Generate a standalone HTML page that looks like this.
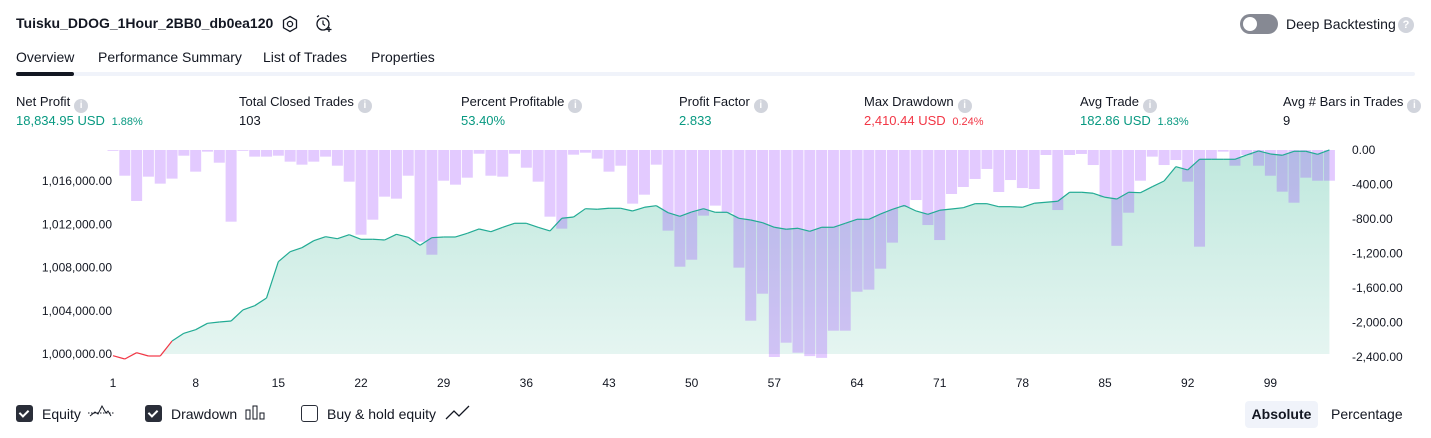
<!DOCTYPE html>
<html><head><meta charset="utf-8">
<style>
body{margin:0;width:1431px;height:438px;background:#fff;font-family:"Liberation Sans",sans-serif;color:#131722;position:relative;overflow:hidden}
.a{position:absolute;white-space:nowrap}
.t{font-size:14px}
.lab{font-size:13px;top:94px}
.val{font-size:13px;top:113px}
.g{color:#089981}.r{color:#f23645}
.sm{font-size:11px}
.info{display:inline-block;width:14px;height:14px;border-radius:50%;background:#d1d4dc;color:#fff;font-size:10px;text-align:center;line-height:14px;font-weight:bold;vertical-align:-2px;margin-left:4px}
.cb{position:absolute;top:405px;width:17px;height:17px;border-radius:3px;box-sizing:border-box}
.cb.on{background:#2a2e39}
.cb.on:after{content:"";position:absolute;left:5px;top:3px;width:4px;height:7px;border:solid #fff;border-width:0 2px 2px 0;transform:rotate(45deg)}
.cb.off{border:1.5px solid #2a2e39;background:#fff}
svg text{font-family:"Liberation Sans",sans-serif;font-size:12px;fill:#131722}
</style></head><body>
<div class="a" style="left:16px;top:15px;font-size:14px;font-weight:bold">Tuisku_DDOG_1Hour_2BB0_db0ea120</div>
<svg class="a" style="left:281px;top:15px" width="18" height="18" viewBox="0 0 18 18"><polygon points="9,1.5 15.5,5.2 15.5,12.8 9,16.5 2.5,12.8 2.5,5.2" fill="none" stroke="#131722" stroke-width="1.3"/><circle cx="9" cy="9" r="2.6" fill="none" stroke="#131722" stroke-width="1.3"/></svg>
<svg class="a" style="left:314px;top:14px" width="20" height="20" viewBox="0 0 20 20"><circle cx="9" cy="10" r="6" fill="none" stroke="#131722" stroke-width="1.3"/><path d="M9 6.5V10l2 1.5M3 3l2-1.5M15 3l-2-1.5" fill="none" stroke="#131722" stroke-width="1.2"/><path d="M15 13v5M12.5 15.5h5" stroke="#131722" stroke-width="1.3"/></svg>
<div class="a" style="left:1240px;top:14px;width:38px;height:20px;border-radius:10px;background:#868993"><div style="position:absolute;left:3px;top:3px;width:14px;height:14px;border-radius:50%;background:#fff"></div></div>
<div class="a t" style="left:1286px;top:16px">Deep Backtesting</div>
<div class="a" style="left:1398px;top:17px;width:16px;height:16px;border-radius:50%;background:#d1d4dc;color:#fff;font-size:11px;text-align:center;line-height:16px;font-weight:bold">?</div>

<div class="a t" style="left:16px;top:49px">Overview</div>
<div class="a t" style="left:98px;top:49px">Performance Summary</div>
<div class="a t" style="left:263px;top:49px">List of Trades</div>
<div class="a t" style="left:371px;top:49px">Properties</div>
<div class="a" style="left:16px;top:72px;width:1399px;height:4px;background:#f0f3fa;border-radius:2px"></div>
<div class="a" style="left:16px;top:72px;width:58px;height:4px;background:#131722;border-radius:2px"></div>

<div class="a lab" style="left:16px">Net Profit<span class="info">i</span></div>
<div class="a val g" style="left:16px">18,834.95 USD <span class="sm">&nbsp;1.88%</span></div>
<div class="a lab" style="left:239px">Total Closed Trades<span class="info">i</span></div>
<div class="a val" style="left:239px">103</div>
<div class="a lab" style="left:461px">Percent Profitable<span class="info">i</span></div>
<div class="a val g" style="left:461px">53.40%</div>
<div class="a lab" style="left:679px">Profit Factor<span class="info">i</span></div>
<div class="a val g" style="left:679px">2.833</div>
<div class="a lab" style="left:864px">Max Drawdown<span class="info">i</span></div>
<div class="a val r" style="left:864px">2,410.44 USD <span class="sm">&nbsp;0.24%</span></div>
<div class="a lab" style="left:1080px">Avg Trade<span class="info">i</span></div>
<div class="a val g" style="left:1080px">182.86 USD <span class="sm">&nbsp;1.83%</span></div>
<div class="a lab" style="left:1283px">Avg # Bars in Trades<span class="info">i</span></div>
<div class="a val" style="left:1283px">9</div>

<svg class="a" id="chart" style="left:0;top:0" width="1431" height="400">
<defs><linearGradient id="ag" x1="0" y1="0" x2="0" y2="1"><stop offset="0" stop-color="#bfe8dd"/><stop offset="1" stop-color="#e5f5f1"/></linearGradient></defs>
<g id="area"></g><g id="bars"></g><g id="line"></g><g id="axes"></g>
</svg>

<div class="cb on" style="left:16px"></div>
<div class="a t" style="left:42px;top:406px">Equity</div>
<svg class="a" style="left:87px;top:403px" width="28" height="20"><path d="M1 10H27" stroke="#131722" stroke-dasharray="1.5 1.5"/><path d="M3 13l5-4 3 2 4-8 4 7 2-2 3 5" fill="none" stroke="#131722"/></svg>
<div class="cb on" style="left:145px"></div>
<div class="a t" style="left:171px;top:406px">Drawdown</div>
<svg class="a" style="left:245px;top:405px" width="22" height="16"><rect x="1" y="5" width="4" height="9" fill="none" stroke="#131722"/><rect x="8" y="1" width="4" height="13" fill="none" stroke="#131722"/><rect x="15" y="8" width="4" height="6" fill="none" stroke="#131722"/></svg>
<div class="cb off" style="left:301px"></div>
<div class="a t" style="left:327px;top:406px">Buy &amp; hold equity</div>
<svg class="a" style="left:445px;top:404px" width="26" height="18"><path d="M1 15l8-8 5 5 10-10" fill="none" stroke="#131722" stroke-width="1.3"/></svg>
<div class="a t" style="left:1245px;top:401px;width:73px;height:27px;line-height:27px;text-align:center;background:#f0f3fa;border-radius:4px;font-weight:bold">Absolute</div>
<div class="a t" style="left:1331px;top:406px">Percentage</div>

<script>
const trades = Array.from({length:104},(_,i)=>i+1);
const equity = [999843,999538,1000120,999815,999815,1001202,1001915,1002248,1002840,1002960,1003052,1004070,1004468,1005180,1008538,1009463,1009833,1010480,1010850,1010665,1011035,1010610,1010610,1010545,1011072,1010795,1010055,1010758,1010822,1010822,1011165,1011562,1011313,1011720,1012090,1012090,1011720,1011377,1012552,1012672,1013440,1013385,1013477,1013477,1013227,1013570,1013718,1013070,1012737,1013135,1013440,1013107,1013107,1012552,1012395,1012145,1011720,1011535,1011627,1011350,1011720,1011720,1012090,1012460,1012460,1012950,1013385,1013736,1013227,1012922,1013292,1013412,1013533,1013903,1013903,1013625,1013625,1013570,1013940,1014032,1014125,1014957,1014957,1014865,1014495,1014337,1014957,1014920,1015475,1016002,1017325,1017020,1018010,1018010,1018010,1018010,1018407,1018777,1018500,1018380,1018750,1018750,1018472,1018870];
const drawdown = [8,298,591,309,390,332,66,251,19,147,831,8,77,77,66,135,170,135,77,182,367,982,808,541,564,298,1063,1214,356,402,321,43,298,309,43,205,367,773,912,54,31,100,251,182,622,518,170,935,1353,1272,761,645,727,1364,1979,1666,2400,2234,2350,2390,2410,2095,2095,1643,1619,1376,1074,661,580,870,1044,510,429,336,220,487,348,441,452,58,696,58,46,174,549,1111,727,356,77,174,116,367,1121,108,19,182,58,182,298,483,611,321,356,356];
const eqTicks = [1000000,1004000,1008000,1012000,1016000];
const eqTickLabels = ["1,000,000.00","1,004,000.00","1,008,000.00","1,012,000.00","1,016,000.00"];
const ddTicks = [0,400,800,1200,1600,2000,2400];
const ddTickLabels = ["0.00","-400.00","-800.00","-1,200.00","-1,600.00","-2,000.00","-2,400.00"];
const xTicks = [1,8,15,22,29,36,43,50,57,64,71,78,85,92,99];

const NS="http://www.w3.org/2000/svg";
const X = t => 113 + (t-1)*11.81;
const YE = v => 354 - (v-1000000)*0.0108125;
const YD = v => 150 + v*0.08625;
function mk(tag,attrs,parent){const e=document.createElementNS(NS,tag);for(const k in attrs)e.setAttribute(k,attrs[k]);document.getElementById(parent).appendChild(e);return e;}

// area
let d = `M${X(trades[0])},${YE(1000000)}`;
trades.forEach((t,i)=>{d+=` L${X(t)},${Math.min(YE(equity[i]),YE(1000000))}`;});
d += ` L${X(trades[trades.length-1])},${YE(1000000)} Z`;
const area = mk('path',{d:d,fill:'url(#ag)'},'area');



// bars
trades.forEach((t,i)=>{
  const b = mk('rect',{x:X(t)-5.5,y:YD(0),width:11,height:Math.max(0.8,YD(drawdown[i])-YD(0)),fill:'rgba(150,60,255,0.27)'},'bars');
  
  
});

// line segments
for(let i=1;i<trades.length;i++){
  const below = equity[i]<1000000 || equity[i-1]<1000000;
  const s = mk('line',{x1:X(trades[i-1]),y1:YE(equity[i-1]),x2:X(trades[i]),y2:YE(equity[i]),stroke:below?'#f23645':'#22ab94','stroke-width':1.2},'line');
  
  
}

// axes
eqTicks.forEach((v,i)=>{
  const tx = mk('text',{x:112,y:YE(v)+4,'text-anchor':'end'},'axes');
  tx.textContent = eqTickLabels[i];
  
  
});
ddTicks.forEach((v,i)=>{
  const tx = mk('text',{x:1352,y:YD(v)+4},'axes');
  tx.textContent = ddTickLabels[i];
  
  
});
xTicks.forEach(t=>{
  const tx = mk('text',{x:X(t),y:387,'text-anchor':'middle'},'axes');
  tx.textContent = t;
  
  
});
</script>
</body></html>
